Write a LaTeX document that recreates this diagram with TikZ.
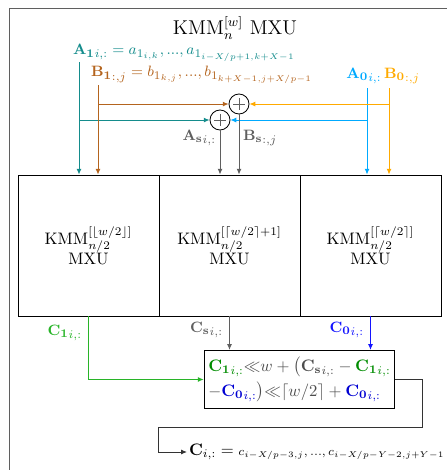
\documentclass[tikz,border=0pt]{standalone}
\usepackage{amsmath}
\usetikzlibrary{arrows.meta,calc}
\definecolor{colAone}{RGB}{20,140,140}
\definecolor{colBone}{RGB}{180,100,30}
\definecolor{colAzero}{RGB}{0,170,255}
\definecolor{colBzero}{RGB}{255,170,0}
\definecolor{colS}{RGB}{95,95,95}
\definecolor{colCone}{RGB}{40,180,40}
\definecolor{colConeD}{RGB}{0,140,0}
\definecolor{colCzero}{RGB}{20,20,255}
\definecolor{colCzeroD}{RGB}{0,0,210}
\tikzset{
  mxubox/.style={draw, line width=0.5pt, minimum width=84.6pt, minimum height=84.6pt, inner sep=0pt, align=center},
  sumnode/.style={draw, circle, line width=0.5pt, minimum size=12pt, inner sep=0pt},
  flow/.style={line width=0.6pt, -{Latex[length=3.5pt,width=3pt]}},
  lbl/.style={inner sep=1pt, font=\fontsize{9.5}{11}\selectfont}
}
\begin{document}
\begin{tikzpicture}[x=0.6pt, y=-0.6pt]
  \useasboundingbox (0,0) rectangle (447,470);
  % outer frame
  \draw[colS, line width=0.6pt] (9,480) -- (9,8) -- (460,8);
  \node (title) at (235,28) {\large $\text{KMM}^{[w]}_{n}$ MXU};

  % the three sub units
  \node[mxubox] (mxuL) at (88.5,245.5) {$\text{KMM}^{[\lfloor w/2\rfloor]}_{n/2}$\\MXU};
  \node[mxubox] (mxuM) at (229.5,245.5) {$\text{KMM}^{[\lceil w/2\rceil+1]}_{n/2}$\\MXU};
  \node[mxubox] (mxuR) at (370.5,245.5) {$\text{KMM}^{[\lceil w/2\rceil]}_{n/2}$\\MXU};

  % inputs
  \node[lbl, colAone, anchor=west] (lblAone) at (71,53)
    {$\mathbf{A_1}_{i,:} = a_{1_{i,k}}, ..., a_{1_{i-X/p+1,k+X-1}}$};
  \node[lbl, colBone, anchor=west] (lblBone) at (89,75)
    {$\mathbf{B_1}_{:,j} = b_{1_{k,j}}, ..., b_{1_{k+X-1,j+X/p-1}}$};
  \node[lbl, colAzero] (lblAzero) at (364,76) {$\mathbf{A_0}_{i,:}$};
  \node[lbl, colBzero] (lblBzero) at (402,76) {$\mathbf{B_0}_{:,j}$};
  \coordinate (aone) at (79,62);
  \coordinate (bone) at (98,85);
  \coordinate (azero) at (367,88);
  \coordinate (bzero) at (389,88);

  \node[sumnode] (sumB) at (239,104) {};
  \node[sumnode] (sumA) at (220,120) {};
  \foreach \s in {sumA,sumB}
    \draw[colS, line width=0.5pt] ($(\s.center)+(-6,0)$) -- ($(\s.center)+(6,0)$)
      ($(\s.center)+(0,-6)$) -- ($(\s.center)+(0,6)$);

  \draw[flow, colAone] (aone) -- (aone |- mxuL.north);
  \draw[flow, colAone] (aone |- sumA) -- (sumA.west);
  \draw[flow, colBone] (bone) -- (bone |- mxuL.north);
  \draw[flow, colBone] (bone |- sumB) -- (sumB.west);
  \draw[flow, colAzero] (azero) -- (azero |- mxuR.north);
  \draw[flow, colAzero] (azero |- sumA) -- (sumA.east);
  \draw[flow, colBzero] (bzero) -- (bzero |- mxuR.north);
  \draw[flow, colBzero] (bzero |- sumB) -- (sumB.east);

  \draw[flow, colS] (sumA.south) -- (sumA |- mxuM.north);
  \draw[flow, colS] (sumB.south) -- (sumB |- mxuM.north);
  \node[lbl, colS, anchor=east] (lblAs) at (218,138) {$\mathbf{A_s}_{i,:}$};
  \node[lbl, colS, anchor=west] (lblBs) at (241,138) {$\mathbf{B_s}_{:,j}$};

  % recombination
  \node[draw, line width=0.5pt, align=left, inner xsep=2.5pt, inner ysep=4pt, text=black!70] (res) at (299.5,379.5)
    {$\color{colConeD}\mathbf{C_1}_{i,:}\color{black!70}{\ll}w + \big(\mathbf{C_s}_{i,:} - \color{colConeD}\mathbf{C_1}_{i,:}$\\[2pt]
     $-\color{colCzeroD}\mathbf{C_0}_{i,:}\color{black!70}\big){\ll}\lceil w/2\rceil + \color{colCzeroD}\mathbf{C_0}_{i,:}$};

  \draw[flow, colCone] (mxuL.south) |- (res.west);
  \draw[flow, colS] (mxuM.south) -- (mxuM.south |- res.north);
  \draw[flow, colCzero] (mxuR.south) -- (mxuR.south |- res.north);
  \node[lbl, colCone, anchor=east] (lblCone) at (84,333) {$\mathbf{C_1}_{i,:}$};
  \node[lbl, colS, anchor=east] (lblCs) at (225,330) {$\mathbf{C_s}_{i,:}$};
  \node[lbl, colCzero, anchor=east] (lblCzero) at (366,330) {$\mathbf{C_0}_{i,:}$};

  % output
  \node[anchor=west, inner sep=1pt] (out) at (187,452)
    {$\mathbf{C}_{i,:} = {\scriptstyle c_{i-X/p-3,j},\, ...,\, c_{i-X/p-Y-2,j+Y-1}}$};
  \coordinate (bend) at (158,427);
  \draw[flow, black!80] (res.east) -| (422,427) -| (out.west -| bend) -- (out.west);
\end{tikzpicture}
\end{document}
